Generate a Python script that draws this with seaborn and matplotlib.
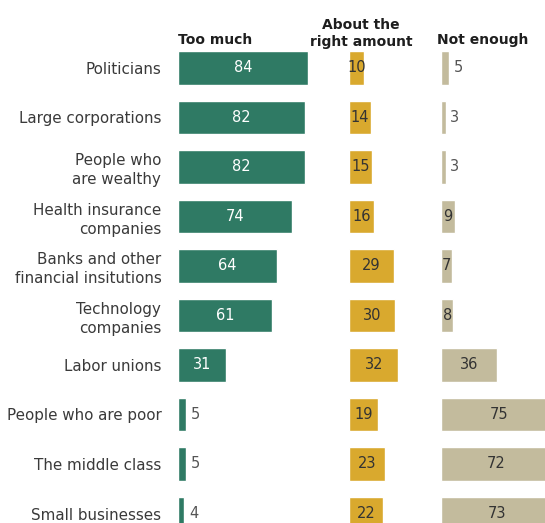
import matplotlib
matplotlib.use("Agg")
import matplotlib.pyplot as plt
import seaborn as sns
import pandas as pd

categories = ["Politicians", "Large corporations", "People who\nare wealthy",
              "Health insurance\ncompanies", "Banks and other\nfinancial insitutions",
              "Technology\ncompanies", "Labor unions", "People who are poor",
              "The middle class", "Small businesses"]
too_much = [84, 82, 82, 74, 64, 61, 31, 5, 5, 4]
about_right = [10, 14, 15, 16, 29, 30, 32, 19, 23, 22]
not_enough = [5, 3, 3, 9, 7, 8, 36, 75, 72, 73]
headers = ["Too much", "About the\nright amount", "Not enough"]

sns.set_theme(style="white")
plt.rcParams['font.family'] = ['DejaVu Sans']

W, H = 545, 523
fig = plt.figure(figsize=(W / 100, H / 100), dpi=100)

scale = 1.545  # px per unit
pitch = 49.5
top_px = 68 - pitch / 2
height_px = pitch * len(categories)

def make_ax(left_px, width_px):
    return fig.add_axes([left_px / W, (H - top_px - height_px) / H, width_px / W, height_px / H])

series = [
    (too_much, "#2f7a64", 178, 165, "white", 10),
    (about_right, "#d9a92e", 349, 85, "#333333", 0),
    (not_enough, "#c3bb9d", 441, 140, "#333333", 6),
]

for i, (vals, col, left, width, incol, thresh) in enumerate(series):
    ax = make_ax(left, width)
    df = pd.DataFrame({"cat": categories, "val": vals})
    sns.barplot(data=df, x="val", y="cat", color=col, saturation=1, width=0.67, ax=ax)
    ax.set_xlim(0, width / scale)
    ax.set_ylim(len(categories) - 0.5, -0.5)
    ax.set_xlabel("")
    ax.set_ylabel("")
    ax.set_xticks([])
    for s in ax.spines.values():
        s.set_visible(False)
    if i == 0:
        ax.tick_params(axis="y", length=0, pad=12, labelsize=10.9, labelcolor="#3a3a3a")
        for lbl in ax.get_yticklabels():
            lbl.set_linespacing(1.3)
    else:
        ax.set_yticks([])
    for j, v in enumerate(vals):
        if v >= thresh:
            ax.text(v / 2, j, str(v), ha="center", va="center", fontsize=10.5, color=incol)
        else:
            ax.text(v + 3, j, str(v), ha="left", va="center", fontsize=10.5, color="#555555")

fig.text(178 / W, 1 - 40 / H, headers[0], ha="left", va="center", fontsize=10, fontweight="bold", color="#1e1e1e")
fig.text(361 / W, 1 - 33.5 / H, headers[1], ha="center", va="center", fontsize=10, fontweight="bold", color="#1e1e1e", linespacing=1.25)
fig.text(437 / W, 1 - 40 / H, headers[2], ha="left", va="center", fontsize=10, fontweight="bold", color="#1e1e1e")

fig.savefig("out.png", dpi=100)
